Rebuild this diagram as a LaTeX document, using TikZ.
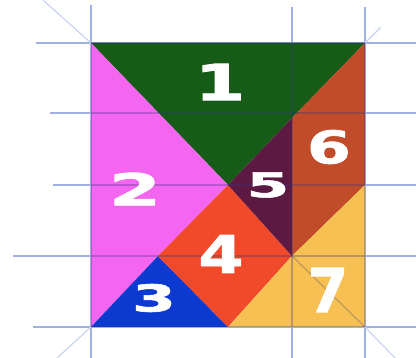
\documentclass[tikz,border=0pt]{standalone}
\usepackage{fontspec}
\setmainfont{DejaVu Sans}
\newfontfamily\numfont[FakeBold=1.6]{DejaVu Sans Bold}
\definecolor{cgreen}{RGB}{22,92,24}
\definecolor{cpink}{RGB}{245,102,240}
\definecolor{cblue}{RGB}{12,58,208}
\definecolor{cred}{RGB}{240,74,42}
\definecolor{cpurple}{RGB}{92,26,66}
\definecolor{crust}{RGB}{192,76,42}
\definecolor{cyellow}{RGB}{247,192,82}
\definecolor{cgrid}{RGB}{160,176,224}
\definecolor{cdiag}{RGB}{200,210,240}
\definecolor{cinner}{RGB}{50,50,130}
\tikzset{
  gridline/.style={cgrid, line width=1.1pt},
  diagline/.style={cdiag, line width=1.1pt},
  innerline/.style={cinner, opacity=0.3, line width=1.1pt},
  numlabel/.style={text=white, inner sep=0pt}
}
\begin{document}
\begin{tikzpicture}[x=1pt,y=-1pt]
\useasboundingbox (0,0) rectangle (416,358);
% grid lines (outside parts)
\draw[gridline] (91,5) -- (91,358);
\draw[gridline] (292,7) -- (292,358);
\draw[gridline] (365,7) -- (365,358);
\draw[gridline] (36,43) -- (416,43);
\draw[gridline] (50,113) -- (416,113);
\draw[gridline] (53,185) -- (416,185);
\draw[gridline] (13,256) -- (416,256);
\draw[gridline] (33,327) -- (416,327);
\draw[diagline] (43,0) -- (91,43);
\draw[diagline] (381,27) -- (365,43);
\draw[diagline] (57,358) -- (91,327);
\draw[diagline] (365,327) -- (395,358);
% pieces
\fill[cgreen]  (91,43) -- (365,43) -- (292,118) -- (228,185) -- cycle;
\fill[cpink]   (91,43) -- (228,185) -- (158,256) -- (91,327) -- cycle;
\fill[cblue]   (91,327) -- (158,256) -- (228,327) -- cycle;
\fill[cred]    (158,256) -- (228,185) -- (292,256) -- (228,327) -- cycle;
\fill[cpurple] (228,185) -- (292,118) -- (292,256) -- cycle;
\fill[crust]   (292,118) -- (365,43) -- (365,185) -- (292,256) -- cycle;
\fill[cyellow] (228,327) -- (292,256) -- (365,185) -- (365,327) -- cycle;
% grid lines seen through the pieces
\begin{scope}
\clip (91,43) rectangle (365,327);
\draw[innerline] (91,43) -- (91,327);
\draw[innerline] (292,43) -- (292,327);
\draw[innerline] (365,43) -- (365,327);
\draw[innerline] (91,43) -- (365,43);
\draw[innerline] (91,113) -- (365,113);
\draw[innerline] (91,185) -- (365,185);
\draw[innerline] (91,256) -- (365,256);
\draw[innerline] (91,327) -- (365,327);
\draw[innerline] (292,256) -- (365,327);
\end{scope}
% labels
\node[numlabel, font=\numfont\fontsize{50}{50}\selectfont] (n1) at (220,82) {\scalebox{1.45}[1]{1}};
\node[numlabel, font=\numfont\fontsize{44}{44}\selectfont] (n2) at (135,189) {\scalebox{1.7}[1]{2}};
\node[numlabel, font=\numfont\fontsize{37}{37}\selectfont] (n3) at (154,298) {\scalebox{1.7}[1]{3}};
\node[numlabel, font=\numfont\fontsize{52}{52}\selectfont] (n4) at (221,254) {\scalebox{1.25}[1]{4}};
\node[numlabel, font=\numfont\fontsize{34}{34}\selectfont] (n5) at (268,185) {\scalebox{1.8}[1]{5}};
\node[numlabel, font=\numfont\fontsize{45}{45}\selectfont] (n6) at (329,147) {\scalebox{1.4}[1]{6}};
\node[numlabel, font=\numfont\fontsize{61}{61}\selectfont] (n7) at (328,290) {\scalebox{0.95}[1]{7}};
\end{tikzpicture}
\end{document}
